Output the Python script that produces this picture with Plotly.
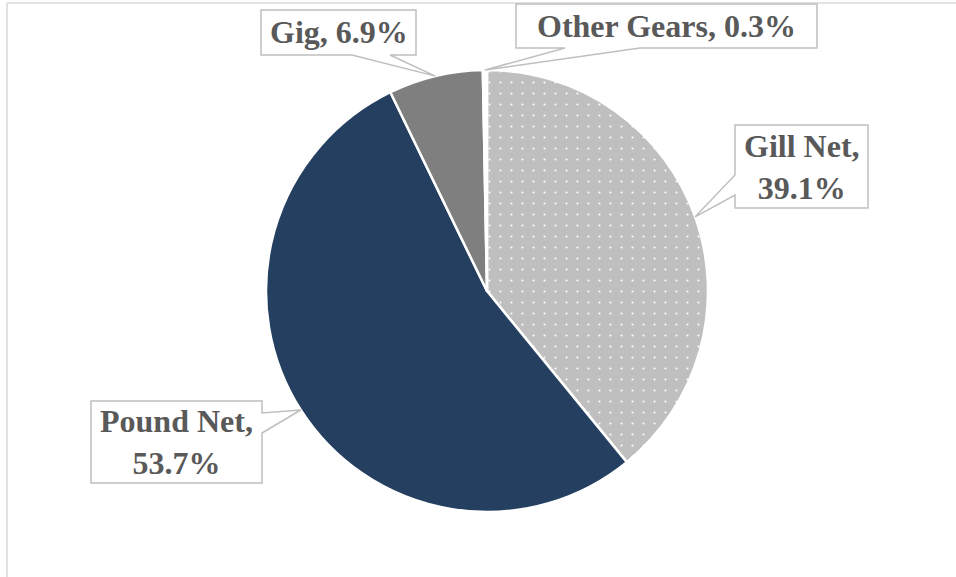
import math
import plotly.graph_objects as go

W, H = 956, 577

# ------------------------------------------------------------------
# Data
gears = ["Gill Net", "Pound Net", "Gig", "Other Gears"]
shares = [39.1, 53.7, 6.9, 0.3]
slice_colors = ["#bfbfbf", "#243f60", "#7f7f7f", "#ffffff"]
slice_patterns = [".", "", "", ""]
label_seps = ["<br>", "<br>", " ", " "]

# ------------------------------------------------------------------
# Layout geometry (pixels)
CX, CY, R = 487, 291, 221
# callout boxes: x0, y0, x1, y1, side the pointer leaves from, pointer base
boxes = {
    "Gill Net": (735, 125, 868, 208, "left", (175, 195)),
    "Pound Net": (91, 401, 262, 483, "right", (413, 433)),
    "Gig": (261, 10, 416, 55, "bottom", (352, 390)),
    "Other Gears": (516, 4, 817, 48, "bottom", (565, 640)),
}
LABEL_GREY = "#595959"
BOX_LINE = "#bfbfbf"
FONT = "Liberation Serif, Times New Roman, serif"


def px(x, y):
    return x / W, 1 - y / H


def callout_path(x0, y0, x1, y1, side, bases, tip):
    b1, b2 = sorted(bases)
    pts = [(x0, y0), (x1, y0)]
    if side == "right":
        pts += [(x1, b1), tip, (x1, b2)]
    pts.append((x1, y1))
    if side == "bottom":
        pts += [(b2, y1), tip, (b1, y1)]
    pts.append((x0, y1))
    if side == "left":
        pts += [(x0, b2), tip, (x0, b1)]
    coords = [px(*p) for p in pts]
    return "M " + " L ".join(f"{a:.5f},{b:.5f}" for a, b in coords) + " Z"


fig = go.Figure()
fig.add_trace(
    go.Pie(
        labels=gears,
        values=shares,
        sort=False,
        direction="clockwise",
        rotation=0,
        textinfo="none",
        hoverinfo="label+percent",
        showlegend=False,
        domain=dict(
            x=[(CX - R) / W, (CX + R) / W],
            y=[1 - (CY + R) / H, 1 - (CY - R) / H],
        ),
        marker=dict(
            colors=slice_colors,
            line=dict(color="white", width=2.5),
            pattern=dict(
                shape=slice_patterns,
                fgcolor="white",
                bgcolor=slice_colors,
                size=11,
                solidity=0.03,
                fillmode="replace",
            ),
        ),
    )
)

# Chart frame (only top and left edges visible in the crop)
frame = dict(type="line", xref="paper", yref="paper",
             line=dict(color="#d9d9d9", width=1.5), layer="below")
fig.add_shape(x0=7 / W, y0=1 - 3 / H, x1=1, y1=1 - 3 / H, **frame)
fig.add_shape(x0=7 / W, y0=1 - 3 / H, x1=7 / W, y1=0, **frame)

# Callout labels, pointer tip at each slice's mid angle on the rim
total = sum(shares)
cum = 0.0
for name, val, sep in zip(gears, shares, label_seps):
    mid = (cum + val / 2) / total * 2 * math.pi
    cum += val
    tip = (CX + R * math.sin(mid), CY - R * math.cos(mid))
    x0, y0, x1, y1, side, bases = boxes[name]
    fig.add_shape(
        type="path",
        xref="paper",
        yref="paper",
        path=callout_path(x0, y0, x1, y1, side, bases, tip),
        fillcolor="white",
        line=dict(color=BOX_LINE, width=1.5),
        layer="above",
    )
    ax, ay = px((x0 + x1) / 2, (y0 + y1) / 2)
    fig.add_annotation(
        x=ax,
        y=ay,
        xref="paper",
        yref="paper",
        text=f"<b>{name},{sep}{val}%</b>",
        showarrow=False,
        xanchor="center",
        yanchor="middle",
        font=dict(family=FONT, size=32, color=LABEL_GREY),
    )

fig.update_layout(
    width=W,
    height=H,
    margin=dict(l=0, r=0, t=0, b=0),
    paper_bgcolor="white",
    plot_bgcolor="white",
)

# drop the browser's default body margin so the figure sits at the page corner
fig.write_html(
    "out.html",
    config={"displayModeBar": False},
    post_script="document.body.style.margin='0';",
)
